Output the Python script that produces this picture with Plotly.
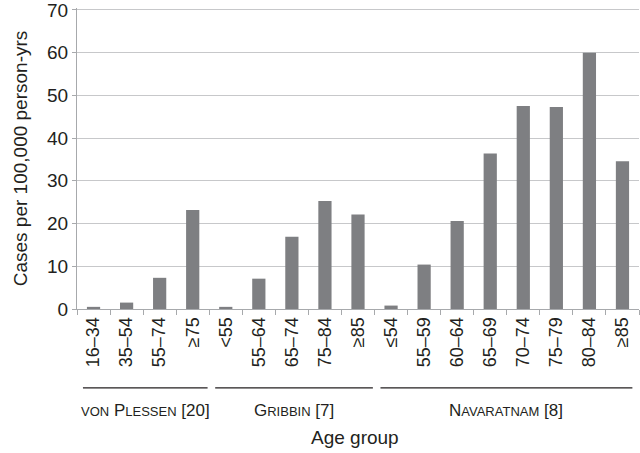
import plotly.graph_objects as go

categories = ["16–34", "35–54", "55–74", "≥75",
              "<55", "55–64", "65–74", "75–84", "≥85",
              "≤54", "55–59", "60–64", "65–69", "70–74", "75–79", "80–84", "≥85 "]
values = [0.5, 1.5, 7.3, 23.2,
          0.5, 7.1, 16.9, 25.3, 22.1,
          0.8, 10.4, 20.6, 36.4, 47.5, 47.3, 60.0, 34.6]
groups = ["von Plessen [20]", "Gribbin [7]", "Navaratnam [8]"]
group_sizes = [4, 5, 8]
group_labels = [
    "<span style='font-size:13px'>VON</span> P<span style='font-size:13px'>LESSEN</span> [20]",
    "G<span style='font-size:13px'>RIBBIN</span> [7]",
    "N<span style='font-size:13px'>AVARATNAM</span> [8]",
]

FONT = "Liberation Sans, Arial, sans-serif"
TXT = "#231f20"

fig = go.Figure(go.Bar(
    x=list(range(len(categories))), y=values,
    marker=dict(color="#7e7f82", line=dict(width=0)),
    width=0.4,
))

shapes = []
annotations = []
start = 0
n = len(categories)
for lab, size in zip(group_labels, group_sizes):
    end = start + size - 1
    x0 = start - 0.32
    x1 = min(end + 0.45, n - 0.7)
    shapes.append(dict(type="line", xref="x", yref="paper", x0=x0, x1=x1,
                       y0=-0.262, y1=-0.262, line=dict(color="#231f20", width=1.3)))
    annotations.append(dict(xref="x", yref="paper", x=(x0 + x1) / 2, y=-0.338,
                            text=lab, showarrow=False, font=dict(size=17, color=TXT, family=FONT),
                            yanchor="middle"))
    start += size

annotations.append(dict(xref="paper", yref="paper", x=0.495, y=-0.428, text="Age group",
                        showarrow=False, font=dict(size=19, color=TXT, family=FONT),
                        yanchor="middle"))

fig.update_layout(
    width=640, height=453,
    margin=dict(l=77, r=1, t=8, b=144),
    paper_bgcolor="white", plot_bgcolor="white",
    showlegend=False,
    font=dict(family=FONT, color=TXT, size=16),
    shapes=shapes, annotations=annotations,
    bargap=0.6,
)
fig.update_xaxes(
    automargin=False,
    tickmode="array", tickvals=list(range(n)), ticktext=[c.strip() for c in categories],
    range=[-0.5, n - 0.5], tickangle=-90,
    showline=True, linecolor="#a7a9ac", linewidth=1.2,
    ticks="", showgrid=False, zeroline=False,
    tickfont=dict(size=18, color=TXT, family=FONT),
    minor=dict(tickvals=[i - 0.5 for i in range(n + 1)], ticks="outside", ticklen=5,
               tickcolor="#a7a9ac", showgrid=False),
)
fig.update_yaxes(
    automargin=False,
    range=[0, 70.45], tickvals=[0, 10, 20, 30, 40, 50, 60, 70],
    ticklabeloverflow="allow",
    showline=True, linecolor="#a7a9ac", linewidth=1.2,
    showgrid=True, gridcolor="#c7c8ca", gridwidth=1.2,
    zeroline=False, ticks="outside", ticklen=4, tickcolor="#a7a9ac",
    tickfont=dict(size=19, color=TXT, family=FONT),
    title=dict(text="Cases per 100,000 person-yrs", font=dict(size=19, color=TXT, family=FONT), standoff=14),
)

fig.write_html("out.html", config={"displayModeBar": False},
               post_script="document.body.style.margin='0';document.body.style.overflow='hidden';")
